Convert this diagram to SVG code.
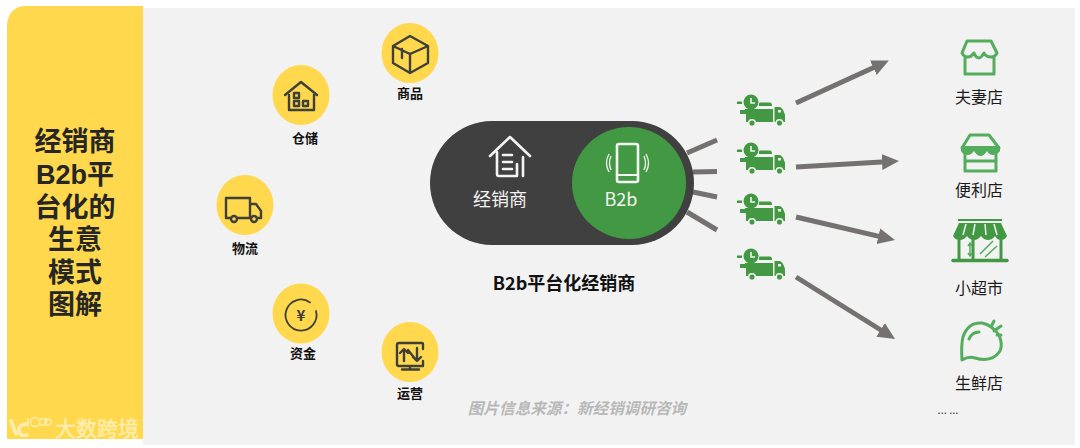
<svg xmlns="http://www.w3.org/2000/svg" width="1080" height="448" viewBox="0 0 1080 448">
<style>
text{font-family:"Noto Sans CJK SC","Noto Sans",sans-serif;text-anchor:middle}
text.side{font-family:"Liberation Sans","Noto Sans CJK SC",sans-serif;font-size:27px;font-weight:700;fill:#262626}
.lab{font-size:13px;font-weight:700;fill:#111}
.shop{font-size:16px;fill:#1a1a1a}
.dot{fill:#ffd84d}
.ic{fill:none;stroke:#40403a;stroke-width:2.4;stroke-linejoin:round;stroke-linecap:round}
.gr{fill:none;stroke:#54ad5c;stroke-width:3;stroke-linejoin:round;stroke-linecap:round}
.wh{fill:none;stroke:#f4f4f4;stroke-width:2.6;stroke-linejoin:round;stroke-linecap:round}
.spoke{stroke:#767171;stroke-width:5;fill:none}
.arrow{stroke:#767171;stroke-width:5;fill:none;marker-end:url(#ah)}
</style>
<defs>
<marker id="ah" markerUnits="userSpaceOnUse" markerWidth="18" markerHeight="18" refX="4" refY="9" orient="auto"><path d="M0 1L17 9L0 17Z" fill="#767171"/></marker>
<g id="truck">
<rect x="0" y="7.500" width="5" height="2.500" fill="#439843"/>
<circle cx="14" cy="8" r="7.500" fill="#439843"/>
<path d="M14 4V9H18" fill="none" stroke="#f2f2f2" stroke-width="1.600"/>
<path d="M22 9.500Q22 8.500 23 8.500H33Q35 8.500 35 12H22Z" fill="#439843"/>
<path d="M3 16H8V15H36V28H9V20H3Z" fill="#439843"/>
<path d="M37.500 13H42Q45 13 47 18L48 21V28H37.500Z" fill="#439843"/>
<circle cx="15" cy="29" r="3.300" fill="#439843" stroke="#f2f2f2" stroke-width="1.500"/>
<circle cx="42.500" cy="29" r="3.300" fill="#439843" stroke="#f2f2f2" stroke-width="1.500"/>
<rect x="41" y="16" width="3" height="2.500" fill="#f2f2f2"/>
</g>
</defs>
<rect x="143" y="8" width="932" height="437" fill="#f2f2f2"/>
<g id="side-panel">
<path d="M7 439V24Q9 8 23 6H143V439Z" fill="#ffd84d"/>
<text class="side" x="75" y="151">经销商</text>
<text class="side" x="75" y="184">B2b平</text>
<text class="side" x="75" y="217">台化的</text>
<text class="side" x="75" y="249">生意</text>
<text class="side" x="75" y="282">模式</text>
<text class="side" x="75" y="314">图解</text>
</g>
<g id="connectors">
<path class="spoke" d="M687 153L717 140"/>
<path class="spoke" d="M693 172L717 171.500"/>
<path class="spoke" d="M693 192L717 197"/>
<path class="spoke" d="M687 212L717 230"/>
<path class="arrow" d="M796 103L877 66"/>
<path class="arrow" d="M796 167L886 161.800"/>
<path class="arrow" d="M796 217L882.300 237.100"/>
<path class="arrow" d="M796 277L884 332"/>
</g>
<g id="node-goods">
<ellipse class="dot" cx="410" cy="53" rx="28.500" ry="30"/>
<path class="ic" d="M410 36L428 46V63L410 73L393 63V46ZM393 46L410 54L428 46M410 54V73M402 49V58"/>
<text class="lab" x="410" y="98">商品</text>
</g>
<g id="node-storage">
<ellipse class="dot" cx="301" cy="95" rx="28.500" ry="30"/>
<path class="ic" d="M285 95L301 82L317 95M289 95V110H314V95"/>
<rect class="ic" x="294" y="93" width="5" height="5"/>
<rect class="ic" x="294" y="101" width="5" height="5"/>
<rect class="ic" x="303" y="101" width="5" height="5"/>
<text class="lab" x="305" y="143">仓储</text>
</g>
<g id="node-logistics">
<ellipse class="dot" cx="245" cy="205" rx="28.500" ry="30"/>
<path class="ic" d="M226 198H250V218H226ZM250 204H256L261 211V218H250"/>
<circle class="ic" cx="234" cy="219" r="3" style="fill:#ffd84d"/>
<circle class="ic" cx="254" cy="219" r="3" style="fill:#ffd84d"/>
<text class="lab" x="245" y="253">物流</text>
</g>
<g id="node-funds">
<ellipse class="dot" cx="301" cy="313.500" rx="28.500" ry="30"/>
<path class="ic" style="stroke-width:1.800" d="M310 302.400A15.500 15.500 0 1 0 316 311"/>
<text x="301" y="321" font-size="15" font-weight="700" fill="#40403a">¥</text>
<text class="lab" x="303" y="358">资金</text>
</g>
<g id="node-ops">
<ellipse class="dot" cx="410" cy="352" rx="28.500" ry="30"/>
<path class="ic" d="M423 349V344Q423 343 422 343H399Q397 343 397 345V364Q397 366 399 366H423V361M410 366V369M402 369.500H419"/>
<path class="ic" d="M404 361V350M400 353L404 349L408 353M408 350L416 360M417 348V359M413 357L417 361L421 357"/>
<text class="lab" x="410" y="398">运营</text>
</g>
<g id="node-platform">
<rect x="430" y="121" width="264" height="124" rx="62" fill="#404040"/>
<ellipse cx="629" cy="183" rx="57" ry="56" fill="#439843"/>
<path class="wh" d="M490 156L510 137L530 156M497 152V174Q497 176 499 176H517V164M523 157V176M503 155H512M503 162H512M503 169H512"/>
<text x="500" y="206" font-size="18" fill="#f4f4f4">经销商</text>
<rect class="wh" x="617" y="144" width="21" height="38" rx="2"/>
<path class="wh" d="M617 175H638" style="stroke-width:2"/>
<path d="M611 156Q608 163 611 170M609 154Q604 163 609 172M644 156Q647 163 644 170M646 154Q651 163 646 172" fill="none" stroke="#f4f4f4" stroke-width="1.300"/>
<text x="621" y="206" font-size="18" fill="#f4f4f4">B2b</text>
<text x="564" y="290" font-size="18" font-weight="700" fill="#111">B2b平台化经销商</text>
</g>
<g id="trucks">
<use href="#truck" x="737" y="94"/>
<use href="#truck" x="737" y="142"/>
<use href="#truck" x="737" y="193"/>
<use href="#truck" x="737" y="248"/>
</g>
<g id="node-couple-store">
<path class="gr" d="M967 41H991L997 53Q995 57 991 57Q986 57 984 53Q981 58 979 58Q976 58 974 53Q971 57 968 57Q964 57 962 53ZM965 58V74H994V58"/>
<text class="shop" x="979" y="103">夫妻店</text>
</g>
<g id="node-convenience">
<path class="gr" d="M970 135H989L999 148H962ZM965 152V171H996V152M966 161H995"/>
<path d="M961 146H1000V151Q997 155 993 155Q989 155 987 151Q984 156 980.500 156Q977 156 974 151Q971 155 968 155Q963 155 961 151Z" fill="#54ad5c"/>
<text class="shop" x="979" y="196">便利店</text>
</g>
<g id="node-supermarket">
<path d="M958 219H1002V221H958ZM959 223H1001L1007 236Q1005 240 1001 240Q997 240 995 236Q992 240 988 240Q984 240 981 236Q978 240 974 240Q970 240 967 236Q964 240 960 240Q955 240 953 236Z" fill="#439843"/>
<path d="M966 224L963 235M975 224L973 235M985 224L986 235M994 224L997 235" stroke="#f2f2f2" stroke-width="1.500"/>
<path d="M959 239V259M973 239V259M1001 239V259" stroke="#439843" stroke-width="3"/>
<path d="M953 260.500H1007" stroke="#439843" stroke-width="3.500" stroke-linecap="round"/>
<path d="M970 243V256M968 246L970 243L972 246M968 253L970 256L972 253M980 254L993 241M985 257L997 246" fill="none" stroke="#54ad5c" stroke-width="1.500"/>
<text class="shop" x="979" y="294">小超市</text>
</g>
<g id="node-fresh">
<path class="gr" d="M962 360Q961 345 963 337Q968 322 982 323Q992 325 999 335Q1003 345 1000 351Q992 363 975 358Q969 356 962 360ZM969 339Q972 332 979 332M991 327L994 321M994 331L1001 326M997 335L1001 335"/>
<text class="shop" x="979" y="389">生鲜店</text>
</g>
<text x="948" y="414" font-size="11" fill="#333">... ...</text>
<text x="577" y="414" font-size="15.600" font-weight="700" font-style="italic" fill="#b8b8b8">图片信息来源：新经销调研咨询</text>
<g id="watermark" opacity="0.85">
<path d="M11 421L16 434M26 424Q18 425 19 431Q20 437 27 435" fill="none" stroke="#fff3c4" stroke-width="3.500" stroke-linecap="round"/>
<path d="M28 418V427" stroke="#fff3c4" stroke-width="1.500"/>
<circle cx="35" cy="422" r="4.500" fill="none" stroke="#fff3c4" stroke-width="1.400"/>
<circle cx="43" cy="422" r="3.500" fill="none" stroke="#fff3c4" stroke-width="1.400"/>
<circle cx="48" cy="422" r="3" fill="none" stroke="#fff3c4" stroke-width="1.400"/>
<text x="97" y="436" font-size="21" fill="#fff3c4" stroke="#fff3c4" stroke-width="0.400">大数跨境</text>
</g>
</svg>
